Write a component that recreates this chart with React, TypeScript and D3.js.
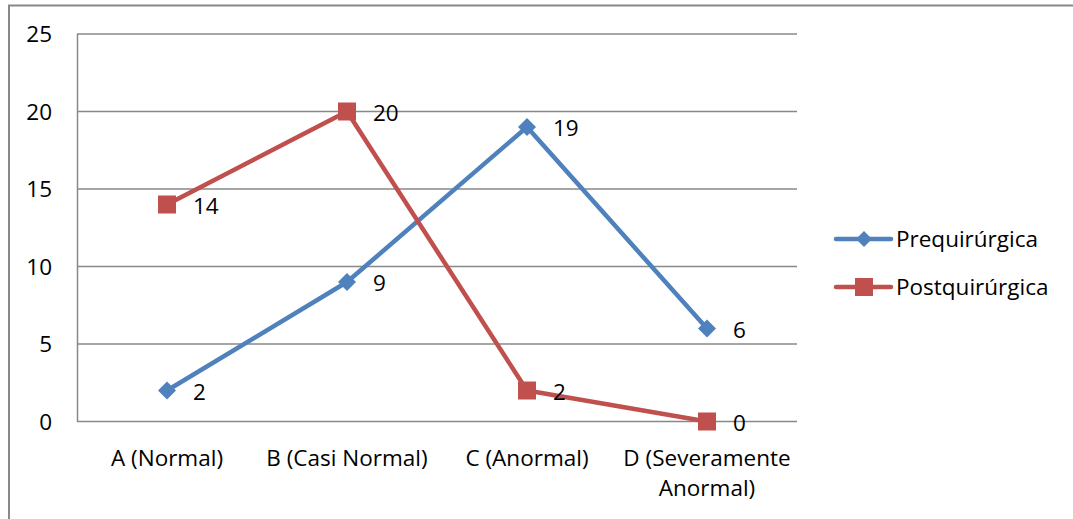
import React from "react";
import * as d3 from "d3";

const categories = ["A (Normal)", "B (Casi Normal)", "C (Anormal)", "D (Severamente Anormal)"];
const categoryLines = [["A (Normal)"], ["B (Casi Normal)"], ["C (Anormal)"], ["D (Severamente", "Anormal)"]];
const preValues = [2, 9, 19, 6];
const postValues = [14, 20, 2, 0];
const yTicks = [0, 5, 10, 15, 20, 25];
const seriesNames = ["Prequirúrgica", "Postquirúrgica"];

const W = 1073;
const H = 519;
const FONT = "'Open Sans', sans-serif";
const FS = 22.5;
const BLUE = "#4F81BD";
const RED = "#C0504D";
const GRID = "#888888";

export default function App() {
  const x = d3.scaleBand<string>().domain(categories).range([77, 797]);
  const y = d3.scaleLinear().domain([0, 25]).range([421.5, 34]);
  const cx = (c: string) => (x(c) as number) + x.bandwidth() / 2;

  const line = d3
    .line<number>()
    .x((_, i) => cx(categories[i]))
    .y((d) => y(d));

  const diamond = (px: number, py: number, r: number) =>
    `M${px},${py - r}L${px + r},${py}L${px},${py + r}L${px - r},${py}Z`;

  const series = [
    { name: seriesNames[0], values: preValues, color: BLUE, marker: "diamond" },
    { name: seriesNames[1], values: postValues, color: RED, marker: "square" },
  ];

  return (
    <svg
      width={W}
      height={H}
      style={{ position: "absolute", left: 0, top: 0, background: "#fff" }}
      fontFamily={FONT}
    >
      <rect x={0} y={0} width={W} height={H} fill="#fff" />
      <path d={`M9,${H + 5}V5.5H${W + 5}`} fill="none" stroke={GRID} strokeWidth={2} />

      {yTicks.map((t) => (
        <line key={t} x1={77} x2={797} y1={y(t)} y2={y(t)} stroke={GRID} strokeWidth={1.5} />
      ))}
      <line x1={77.5} x2={77.5} y1={y(25)} y2={y(0)} stroke={GRID} strokeWidth={1.5} />

      {yTicks.map((t) => (
        <text key={t} x={52} y={y(t) + 8} fontSize={FS} textAnchor="end" fill="#000">
          {t}
        </text>
      ))}

      {categories.map((c, i) => (
        <text key={c} x={cx(c)} y={466} fontSize={FS} textAnchor="middle" fill="#000">
          {categoryLines[i].map((l, j) => (
            <tspan key={j} x={cx(c)} dy={j === 0 ? 0 : 30}>
              {l}
            </tspan>
          ))}
        </text>
      ))}

      {series.map((s) => (
        <g key={s.name}>
          <path d={line(s.values) || ""} fill="none" stroke={s.color} strokeWidth={4.5} strokeLinejoin="round" />
          {s.values.map((v, i) => {
            const px = cx(categories[i]);
            const py = y(v);
            return s.marker === "diamond" ? (
              <path key={i} d={diamond(px, py, 9)} fill={s.color} />
            ) : (
              <rect key={i} x={px - 9} y={py - 9} width={18} height={18} fill={s.color} />
            );
          })}
          {s.values.map((v, i) => (
            <text key={"l" + i} x={cx(categories[i]) + 26} y={y(v) + 9} fontSize={FS} fill="#000">
              {v}
            </text>
          ))}
        </g>
      ))}

      {series.map((s, i) => {
        const ly = 239 + i * 48;
        return (
          <g key={"lg" + i}>
            <line x1={836} x2={891} y1={ly} y2={ly} stroke={s.color} strokeWidth={4.5} strokeLinecap="round" />
            {s.marker === "diamond" ? (
              <path d={diamond(864, ly, 8)} fill={s.color} />
            ) : (
              <rect x={855} y={ly - 9} width={18} height={18} fill={s.color} />
            )}
            <text x={896} y={ly + 8} fontSize={FS} fill="#000">
              {s.name}
            </text>
          </g>
        );
      })}
    </svg>
  );
}
